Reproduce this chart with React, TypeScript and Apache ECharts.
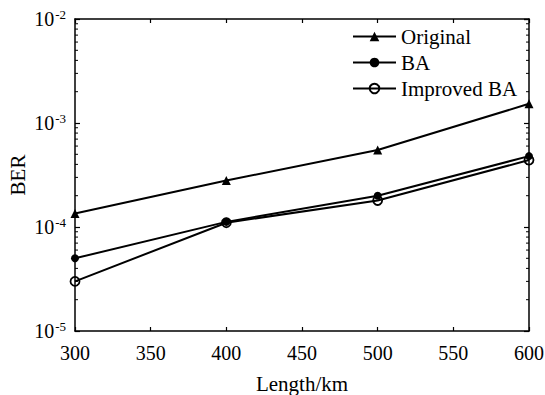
import React, { useEffect, useRef } from "react";
import * as echarts from "echarts";

const lengths = [300, 400, 500, 600];
const originalBER = [1.35e-4, 2.8e-4, 5.5e-4, 1.53e-3];
const baBER = [5.0e-5, 1.12e-4, 2.0e-4, 4.8e-4];
const improvedBER = [3.0e-5, 1.1e-4, 1.8e-4, 4.4e-4];
const seriesNames = ["Original", "BA", "Improved BA"];
const minorTickValues: number[] = [];
for (const d of [1e-5, 1e-4, 1e-3]) {
  for (const m of [2, 3, 4, 5, 6, 7, 8, 9]) minorTickValues.push(+(m * d).toPrecision(3));
}

const FONT = "Liberation Serif";

export default function App() {
  const ref = useRef<HTMLDivElement>(null);
  useEffect(() => {
    if (!ref.current) return;
    const chart = echarts.init(ref.current, undefined, { renderer: "svg" });
    const pairs = (ys: number[]) => lengths.map((x, i) => [x, ys[i]]);
    const lineCommon = {
      type: "line" as const,
      lineStyle: { color: "#000", width: 2 },
      color: "#000",
      z: 3,
    };
    const option: any = {
      animation: false,
      backgroundColor: "#fff",
      textStyle: { fontFamily: FONT },
      grid: { left: 75, right: 16, top: 19, bottom: 64, outerBoundsMode: "none", containLabel: false },
      legend: {
        data: seriesNames,
        orient: "vertical",
        left: 352,
        top: 26,
        padding: 0,
        itemWidth: 43,
        itemHeight: 12,
        itemGap: 5,
        textStyle: { fontFamily: FONT, fontSize: 21, color: "#000" },
      },
      xAxis: [
        {
          type: "value",
          min: 300,
          max: 600,
          interval: 50,
          name: "Length/km",
          nameLocation: "middle",
          nameGap: 42,
          nameMoveOverlap: false,
          nameTextStyle: { fontFamily: FONT, fontSize: 21, color: "#000" },
          axisLine: { lineStyle: { color: "#000", width: 1.5 } },
          axisTick: { inside: true, length: 4, lineStyle: { color: "#000", width: 1.2 } },
          axisLabel: { fontFamily: FONT, fontSize: 20, color: "#000", margin: 12 },
          splitLine: { show: false },
        },
        {
          type: "value",
          position: "top",
          min: 300,
          max: 600,
          interval: 50,
          axisLine: { lineStyle: { color: "#000", width: 1.5 } },
          axisTick: { inside: true, length: 4, lineStyle: { color: "#000", width: 1.2 } },
          axisLabel: { show: false },
          splitLine: { show: false },
        },
      ],
      yAxis: [
        {
          type: "log",
          logBase: 10,
          min: 1e-5,
          max: 1e-2,
          name: "BER",
          nameLocation: "middle",
          nameGap: 47,
          nameMoveOverlap: false,
          nameTextStyle: { fontFamily: FONT, fontSize: 21, color: "#000" },
          axisLine: { lineStyle: { color: "#000", width: 1.5 } },
          axisTick: { inside: true, length: 5, lineStyle: { color: "#000", width: 1.2 } },
          axisLabel: {
            margin: 9,
            fontFamily: FONT,
            formatter: (v: number) => `{b|10}{s|-${Math.round(-Math.log10(v))}}`,
            rich: {
              b: { fontFamily: FONT, fontSize: 20, color: "#000" },
              s: { fontFamily: FONT, fontSize: 13, color: "#000", padding: [0, 0, 10, 1] },
            },
          },
          splitLine: { show: false },
        },
        {
          type: "log",
          logBase: 10,
          position: "right",
          min: 1e-5,
          max: 1e-2,
          axisLine: { lineStyle: { color: "#000", width: 1.5 } },
          axisTick: { inside: true, length: 5, lineStyle: { color: "#000", width: 1.2 } },
          axisLabel: { show: false },
          splitLine: { show: false },
        },
      ],
      series: [
        {
          ...lineCommon,
          name: "Original",
          data: pairs(originalBER),
          symbol: "triangle",
          symbolSize: 9,
          itemStyle: { color: "#000" },
        },
        {
          ...lineCommon,
          name: "BA",
          data: pairs(baBER),
          symbol: "circle",
          symbolSize: 8,
          itemStyle: { color: "#000" },
        },
        {
          ...lineCommon,
          name: "Improved BA",
          data: pairs(improvedBER),
          symbol: "circle",
          symbolSize: 9,
          itemStyle: { color: "rgba(0,0,0,0)", borderColor: "#000", borderWidth: 1.8 },
        },
        {
          type: "custom",
          name: "minorTicks",
          data: minorTickValues.map((v) => [300, v]),
          silent: true,
          z: 2,
          renderItem: (params: any, api: any) => {
            const v = api.value(1);
            const l = api.coord([300, v]);
            const r = api.coord([600, v]);
            const style = { stroke: "#000", lineWidth: 1 };
            return {
              type: "group",
              children: [
                { type: "line", shape: { x1: l[0], y1: l[1], x2: l[0] + 3, y2: l[1] }, style },
                { type: "line", shape: { x1: r[0], y1: r[1], x2: r[0] - 3, y2: r[1] }, style },
              ],
            };
          },
        },
      ],
    };
    chart.setOption(option);
    return () => chart.dispose();
  }, []);
  return (
    <div
      ref={ref}
      style={{ position: "fixed", left: 0, top: 0, width: 545, height: 395, background: "#fff" }}
    />
  );
}
